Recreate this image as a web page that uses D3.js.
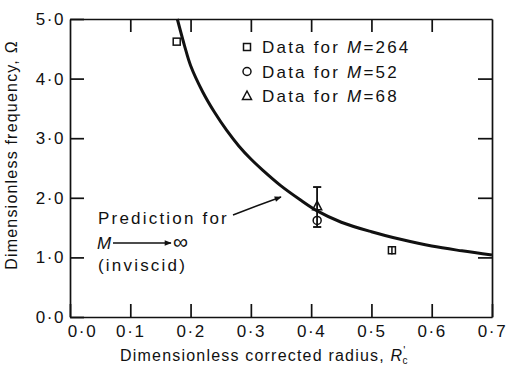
<!DOCTYPE html>
<html lang="en">
    <head>
        <meta charset="utf-8">
        <title>Dimensionless frequency</title>
        <script type="text/javascript" src="https://cdn.jsdelivr.net/npm/d3@7/dist/d3.min.js"></script>
        <style type="text/css">
        body {
            margin: 0;
            background: white;
        }
        text {
            font-family: "Liberation Sans", Arial, sans-serif;
            fill: #111;
        }
        .axis path,
        .axis line {
            fill: none;
            stroke: #111;
            stroke-width: 1.7;
        }
        .axis text {
            font-size: 17px;
            letter-spacing: 1.6px;
        }
        .lbl {
            font-size: 16px;
            letter-spacing: 1.2px;
        }
        .big {
            font-size: 17px;
            letter-spacing: 2.2px;
        }
        .pt {
            fill: none;
            stroke: #111;
            stroke-width: 1.5;
        }
        </style>
    </head>
    <body>
        <script>
                var w = 506;
                var h = 366;
                var m = {top: 19, right: 14, bottom: 49, left: 70};

                // prediction curve, M -> infinity
                var curveR     = [0.178, 0.19, 0.20, 0.22, 0.24, 0.26, 0.28, 0.30, 0.32, 0.35, 0.38, 0.41, 0.45, 0.50, 0.55, 0.60, 0.65, 0.70];
                var curveOmega = [5.00,  4.55, 4.22, 3.78, 3.43, 3.13, 2.87, 2.65, 2.46, 2.20, 1.98, 1.78, 1.59, 1.43, 1.30, 1.19, 1.11, 1.04];

                // measured points
                var dataR     = [0.177, 0.41, 0.41, 0.534];
                var dataOmega = [4.62,  1.62, 1.86, 1.12];
                var dataShape = ["square", "circle", "triangle", "square"];
                var errLow    = [null, 1.51, 1.51, 1.05];
                var errHigh   = [null, 2.18, 2.18, 1.19];

                var xTicks = [0, 0.1, 0.2, 0.3, 0.4, 0.5, 0.6, 0.7];
                var yTicks = [0, 1, 2, 3, 4, 5];
                var legendMach = ["264", "52", "68"];
                var legendShape = ["square", "circle", "triangle"];

                var fmt = function (d) { return d3.format(".1f")(d).replace(".", "\u00b7"); };

                var x = d3.scaleLinear().domain([0, 0.7]).range([m.left, w - m.right]);
                var y = d3.scaleLinear().domain([0, 5]).range([h - m.bottom, m.top]);

                var svg = d3.select("body")
                  .append("svg")
                  .attr("width", w)
                  .attr("height", h);

                svg.append("defs").append("marker")
                  .attr("id", "head")
                  .attr("viewBox", "0 0 10 10")
                  .attr("refX", 9).attr("refY", 5)
                  .attr("markerWidth", 6).attr("markerHeight", 5)
                  .attr("markerUnits", "strokeWidth")
                  .attr("orient", "auto")
                  .append("path").attr("d", "M0,1 L10,5 L0,9 z").attr("fill", "#111");

                // axes, ticks pointing inward on all four sides
                var bottom = svg.append("g").attr("class", "axis")
                  .attr("transform", "translate(0," + (h - m.bottom) + ")")
                  .call(d3.axisBottom(x).tickValues(xTicks).tickSize(-13).tickSizeOuter(0).tickPadding(8).tickFormat(fmt));
                bottom.selectAll("text").filter(function (d) { return d === 0; }).attr("dx", 12);

                svg.append("g").attr("class", "axis")
                  .attr("transform", "translate(" + m.left + ",0)")
                  .call(d3.axisLeft(y).tickValues(yTicks).tickSize(-14).tickSizeOuter(0).tickPadding(5).tickFormat(fmt));

                svg.append("g").attr("class", "axis")
                  .attr("transform", "translate(0," + m.top + ")")
                  .call(d3.axisTop(x).tickValues(xTicks.slice(1, -1)).tickSize(-13).tickSizeOuter(0).tickFormat(""));

                svg.append("g").attr("class", "axis")
                  .attr("transform", "translate(" + (w - m.right) + ",0)")
                  .call(d3.axisRight(y).tickValues(yTicks.slice(1, -1)).tickSize(-14).tickSizeOuter(0).tickFormat(""));

                // the curve
                var line = d3.line()
                  .x(function (d) { return x(d[0]); })
                  .y(function (d) { return y(d[1]); })
                  .curve(d3.curveCatmullRom);

                svg.append("path")
                  .datum(d3.zip(curveR, curveOmega))
                  .attr("d", line)
                  .attr("fill", "none")
                  .attr("stroke", "#111")
                  .attr("stroke-width", 3);

                // markers
                function marker(g, shape, cx, cy) {
                  if (shape === "square") {
                    g.append("rect").attr("class", "pt")
                      .attr("x", cx - 3.5).attr("y", cy - 3.5).attr("width", 7).attr("height", 7);
                  } else if (shape === "circle") {
                    g.append("circle").attr("class", "pt")
                      .attr("cx", cx).attr("cy", cy).attr("r", 4);
                  } else {
                    g.append("path").attr("class", "pt")
                      .attr("d", "M" + cx + "," + (cy - 5) + " L" + (cx + 4.5) + "," + (cy + 3.5) + " L" + (cx - 4.5) + "," + (cy + 3.5) + " Z");
                  }
                }

                var pts = svg.append("g");
                dataR.forEach(function (r, i) {
                  if (errLow[i] !== null) {
                    pts.append("line").attr("class", "pt")
                      .attr("x1", x(r)).attr("x2", x(r))
                      .attr("y1", y(errLow[i])).attr("y2", y(errHigh[i]));
                    if (errHigh[i] - errLow[i] > 0.3) {
                      [errLow[i], errHigh[i]].forEach(function (v) {
                        pts.append("line").attr("class", "pt")
                          .attr("x1", x(r) - 4).attr("x2", x(r) + 4)
                          .attr("y1", y(v)).attr("y2", y(v));
                      });
                    }
                  }
                  marker(pts, dataShape[i], x(r), y(dataOmega[i]));
                });

                // legend
                var leg = svg.append("g");
                legendMach.forEach(function (mach, i) {
                  var ly = 47 + i * 24.5;
                  marker(leg, legendShape[i], 247, ly);
                  var t = leg.append("text").attr("class", "big")
                    .attr("x", 262).attr("y", ly + 6);
                  t.append("tspan").text("Data for ");
                  t.append("tspan").attr("font-style", "italic").text("M");
                  t.append("tspan").text("=" + mach);
                });

                // prediction annotation
                svg.append("text").attr("class", "big").attr("x", 98).attr("y", 224).text("Prediction for");
                svg.append("path")
                  .attr("d", "M233,215 Q256,206 281,197")
                  .attr("fill", "none").attr("stroke", "#111").attr("stroke-width", 1.4)
                  .attr("marker-end", "url(#head)");

                svg.append("text").attr("class", "big").attr("x", 97).attr("y", 249)
                  .attr("font-style", "italic").text("M");
                svg.append("line")
                  .attr("x1", 113).attr("y1", 243).attr("x2", 171).attr("y2", 243)
                  .attr("stroke", "#111").attr("stroke-width", 1.4)
                  .attr("marker-end", "url(#head)");
                svg.append("text").attr("class", "big").attr("x", 173).attr("y", 249)
                  .style("font-size", "21px").text("\u221e");
                svg.append("text").attr("class", "big").attr("x", 98).attr("y", 271).text("(inviscid)");

                // axis titles
                var xt = svg.append("text").attr("class", "lbl")
                  .attr("x", 120).attr("y", 361);
                xt.append("tspan").text("Dimensionless corrected radius,  ");
                xt.append("tspan").attr("font-style", "italic").text("R");
                xt.append("tspan").attr("dy", -7).style("font-size", "11px").text("'");
                xt.append("tspan").attr("dy", 10).attr("dx", -4).style("font-size", "10px").text("c");

                svg.append("text").attr("class", "lbl")
                  .attr("transform", "rotate(-90)")
                  .attr("x", -155)
                  .attr("y", 17)
                  .attr("text-anchor", "middle")
                  .text("Dimensionless frequency, \u03a9");

            </script>
    </body>
</html>
